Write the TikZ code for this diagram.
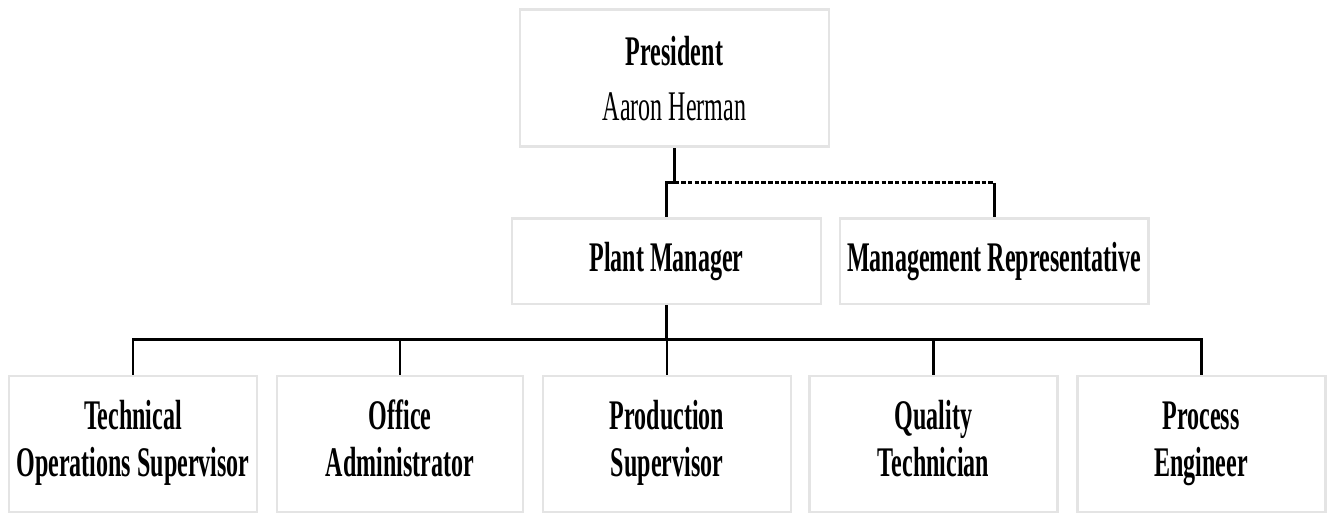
\documentclass[tikz,border=0pt]{standalone}
\usepackage{fontspec}
\setmainfont{Liberation Serif}[FakeStretch=0.57]
\usetikzlibrary{positioning}
\definecolor{boxline}{RGB}{228,228,228}
\tikzset{
	unit/.style={draw=boxline, line width=0.85pt, align=center, inner sep=0pt,
		font=\fontsize{12}{13.4}\selectfont\bfseries},
	link/.style={line width=0.85pt, draw=black},
	dotlink/.style={link, dash pattern=on 1.3pt off 0.6pt}
}

\begin{document}
\begin{tikzpicture}
	\useasboundingbox (0,0) rectangle (13.3,5.14);
	
	% top
	\node[unit, minimum width=3.09cm, minimum height=1.37cm, font=\fontsize{12}{15.6}\selectfont] (pres) at (6.745,4.355)
	{\textbf{President}\\Aaron Herman};
	
	% middle
	\node[unit, minimum width=3.09cm, minimum height=0.85cm] (plant) at (6.665,2.525) {Plant Manager};
	\node[unit, minimum width=3.08cm, minimum height=0.85cm] (mrep) at (9.94,2.525) {Management Representative};
	
	% bottom row
	\node[unit, minimum width=2.48cm, minimum height=1.36cm] (tech) at (1.33,0.70) {\strut Technical\\\strut Operations Supervisor};
	\node[unit, minimum width=2.46cm, minimum height=1.36cm] (office) at (4.00,0.70) {\strut Office\\\strut Administrator};
	\node[unit, minimum width=2.48cm, minimum height=1.36cm] (prod) at (6.67,0.70) {\strut Production\\\strut Supervisor};
	\node[unit, minimum width=2.48cm, minimum height=1.36cm] (qual) at (9.335,0.70) {\strut Quality\\\strut Technician};
	\node[unit, minimum width=2.48cm, minimum height=1.36cm] (proc) at (12.01,0.70) {\strut Process\\\strut Engineer};
	
	% links
	\coordinate (fork) at (6.745,3.31);
	\coordinate (mtop) at (fork -| mrep.north);
	\draw[link] (pres.south) -- (fork) -| (plant.north);
	\draw[dotlink] (fork) -- (mtop);
	\draw[link] (mtop) -- (mrep.north);
	
	\coordinate (bus) at (6.665,1.74);
	\draw[link] (tech.north) |- (proc.north |- bus) -- (proc.north);
	\draw[link] (plant.south) -- (bus);
	\foreach \n in {office,prod,qual}
	\draw[link] (\n.north) -- (\n.north |- bus);
	
\end{tikzpicture}
\end{document}
